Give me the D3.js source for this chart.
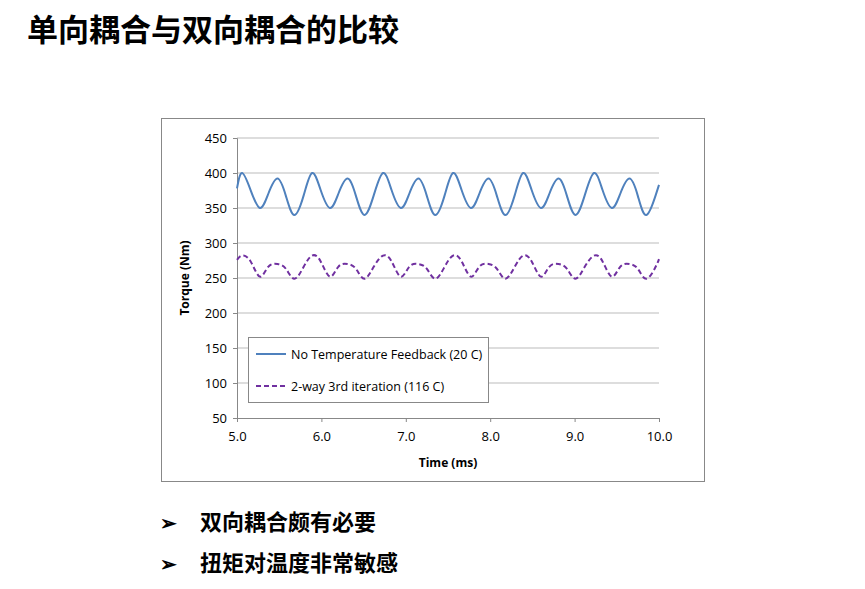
<!DOCTYPE html>
<html><head><meta charset="utf-8">
<script src="https://cdn.jsdelivr.net/npm/d3@7"></script>
<style>body{margin:0;background:#fff;font-family:"Noto Sans CJK SC","Noto Sans",sans-serif}</style>
</head><body>
<svg width="865" height="589"></svg>
<script>
const times = [5.0,
  5.06,5.16,5.27,5.37,5.48,5.58,5.68,5.79,
  5.89,5.99,6.10,6.20,6.31,6.41,6.51,6.62,
  6.73,6.83,6.94,7.04,7.15,7.25,7.35,7.46,
  7.56,7.66,7.77,7.87,7.98,8.08,8.18,8.29,
  8.39,8.49,8.60,8.70,8.81,8.91,9.01,9.12,
  9.23,9.33,9.44,9.54,9.65,9.75,9.85,9.96, 10.0];
const noFeedback = [378,
  400,376,350,370,392,367,340,368,
  400,376,350,370,392,367,340,368,
  400,376,350,370,392,367,340,368,
  400,376,350,370,392,367,340,368,
  400,376,350,370,392,367,340,368,
  400,376,350,370,392,367,340,368, 383];
const twoWay = [276,
  282,274,252,266,270,263,249,266,
  282,274,252,266,270,263,249,266,
  282,274,252,266,270,263,249,266,
  282,274,252,266,270,263,249,266,
  282,274,252,266,270,263,249,266,
  282,274,252,266,270,263,249,266, 277];
const yTicks = [50,100,150,200,250,300,350,400,450];
const xTicks = [5,6,7,8,9,10];
const seriesNames = ["No Temperature Feedback (20 C)", "2-way 3rd iteration (116 C)"];

const svg = d3.select('svg');

svg.append('text').attr('x', 27).attr('y', 41).attr('font-size', 31).attr('font-weight', 'bold')
  .text('单向耦合与双向耦合的比较');

svg.append('rect').attr('x', 161.5).attr('y', 118.5).attr('width', 543).attr('height', 363)
  .attr('fill', '#fff').attr('stroke', '#888');

const x = d3.scaleLinear().domain([5, 10]).range([237, 659]);
const y = d3.scaleLinear().domain([50, 450]).range([418, 138]);

svg.append('g').selectAll('line').data(yTicks.slice(1)).join('line')
  .attr('x1', 237).attr('x2', 659).attr('y1', d => y(d)).attr('y2', d => y(d))
  .attr('stroke', '#bbb');

const font = '"Open Sans", "Liberation Sans", sans-serif';
const ya = svg.append('g').attr('transform', 'translate(237,0)')
  .call(d3.axisLeft(y).tickValues(yTicks).tickSize(4).tickPadding(6));
const xa = svg.append('g').attr('transform', 'translate(0,418)')
  .call(d3.axisBottom(x).tickValues(xTicks).tickFormat(d3.format('.1f')).tickSize(4).tickPadding(10));
[ya, xa].forEach(a => {
  a.selectAll('path,line').attr('stroke', '#888');
  a.selectAll('text').attr('font-size', 13).attr('font-family', font).attr('fill', '#000');
});

svg.append('text').attr('transform', 'translate(189,278) rotate(-90)').attr('text-anchor', 'middle')
  .attr('font-size', 12).attr('font-weight', 'bold').attr('font-family', font).text('Torque (Nm)');
svg.append('text').attr('x', 448).attr('y', 467).attr('text-anchor', 'middle')
  .attr('font-size', 12).attr('font-weight', 'bold').attr('font-family', font).text('Time (ms)');

const line = d3.line().x(d => x(d[0])).y(d => y(d[1])).curve(d3.curveNatural);
svg.append('path').datum(d3.zip(times, noFeedback)).attr('d', line)
  .attr('fill', 'none').attr('stroke', '#4f81bd').attr('stroke-width', 2);
svg.append('path').datum(d3.zip(times, twoWay)).attr('d', line)
  .attr('fill', 'none').attr('stroke', '#7030a0').attr('stroke-width', 2).attr('stroke-dasharray', '5,3');

const lg = svg.append('g');
lg.append('rect').attr('x', 248.5).attr('y', 337.5).attr('width', 240).attr('height', 65)
  .attr('fill', '#fff').attr('stroke', '#888');
const styles = [{c: '#4f81bd', dash: null}, {c: '#7030a0', dash: '5,3'}];
seriesNames.forEach((n, i) => {
  const yy = 354 + i * 32;
  lg.append('line').attr('x1', 256).attr('x2', 286).attr('y1', yy).attr('y2', yy)
    .attr('stroke', styles[i].c).attr('stroke-width', 2).attr('stroke-dasharray', styles[i].dash);
  lg.append('text').attr('x', 291).attr('y', yy + 4.5).attr('font-size', 12.5).attr('font-family', font).text(n);
});

['双向耦合颇有必要', '扭矩对温度非常敏感'].forEach((t, i) => {
  const yy = 530 + i * 41;
  svg.append('text').attr('x', 160).attr('y', yy).attr('font-size', 20).attr('font-weight', 'bold').text('➢');
  svg.append('text').attr('x', 200).attr('y', yy).attr('font-size', 22).attr('font-weight', 'bold').text(t);
});
</script>
</body></html>
